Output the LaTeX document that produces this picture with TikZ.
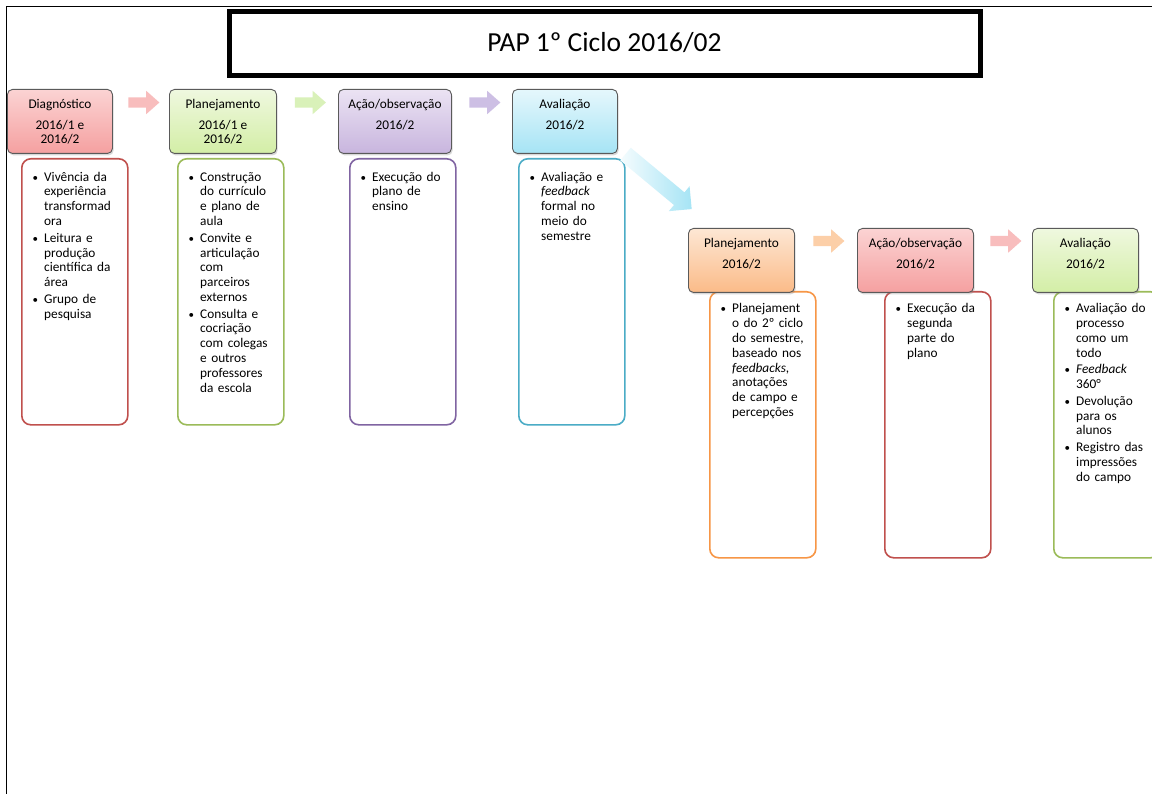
\documentclass[tikz,border=0pt]{standalone}
\usepackage{fontspec}
\setmainfont{Carlito}
\usetikzlibrary{shapes.arrows,shadows,calc}

\definecolor{hdrline}{HTML}{5A5A5A}
\definecolor{redA}{HTML}{C0504D}
\definecolor{greenA}{HTML}{9BBB59}
\definecolor{purpleA}{HTML}{8064A2}
\definecolor{aquaA}{HTML}{4BACC6}
\definecolor{orangeA}{HTML}{F79646}
\definecolor{redT}{HTML}{FBD3D3}
\definecolor{redB}{HTML}{F5A0A0}
\definecolor{greenT}{HTML}{EFF8DF}
\definecolor{greenB}{HTML}{D3EEA6}
\definecolor{purpleT}{HTML}{EBE3F3}
\definecolor{purpleB}{HTML}{C8B5DE}
\definecolor{aquaT}{HTML}{E5F7FC}
\definecolor{aquaB}{HTML}{A6E4F5}
\definecolor{orangeT}{HTML}{FDE7D4}
\definecolor{orangeB}{HTML}{FBBB88}
\definecolor{arrRed}{HTML}{F8BDBD}
\definecolor{arrGreen}{HTML}{D9F1B9}
\definecolor{arrPurple}{HTML}{CDBFE4}
\definecolor{arrOrange}{HTML}{FCCFA8}

\newcommand\bodyfont{\fontsize{13.3pt}{14.8pt}\selectfont\lineskip=0pt\relax}
% one bullet item; lines of the item are separated with \\
\newcommand\bul[1]{\noindent\makebox[11.5pt][l]{\rule{0pt}{12pt}{\fontsize{11pt}{11pt}\selectfont\textbullet}}%
  \parbox[t]{88pt}{\raggedright #1\strut}\par\vskip0.2pt}

\tikzset{
  hdr/.style={draw=hdrline, line width=0.9pt, rounded corners=5pt, anchor=north west,
    inner sep=0pt, minimum height=64pt,
    drop shadow={shadow xshift=1.2pt, shadow yshift=-2pt, opacity=0.3}},
  hdrtext/.style={anchor=north, inner sep=0pt, align=center, font=\bodyfont},
  card/.style={draw, line width=1.6pt, rounded corners=9pt, fill=white, anchor=north west,
    inner sep=0pt, minimum width=106pt, minimum height=266pt},
  cardtext/.style={anchor=north west, inner sep=0pt, text width=100pt, font=\bodyfont},
  flow/.style={single arrow, draw=none, minimum height=31pt, minimum width=23pt,
    single arrow head extend=6.5pt, single arrow head indent=0pt, single arrow tip angle=83,
    inner xsep=0pt, inner ysep=5pt, text height=0pt, text depth=0pt, sloped},
}

\begin{document}
\begin{tikzpicture}[x=1pt,y=-1pt]
\useasboundingbox (0,0) rectangle (1152,794);
\fill[white] (0,0) rectangle (1152,794);

% page frame and title
\draw[line width=1.8pt] (6.5,810) -- (6.5,6.5) -- (1170,6.5);
\node[draw, line width=5pt, fill=white, anchor=north west, minimum width=751pt, minimum height=64.5pt, inner sep=0pt]
  (title) at (226.5,9) {};
\node[font=\fontsize{27.5pt}{32pt}\selectfont, inner sep=0pt] (titletext) at ([yshift=1.5pt]title.center) {PAP 1º Ciclo 2016/02};

% content cards, first cycle
\node[card, draw=redA]    (c1) at (21,158)  {};
\node[card, draw=greenA]  (c2) at (177,158) {};
\node[card, draw=purpleA] (c3) at (349,158) {};
\node[card, draw=aquaA]   (c4) at (518,158) {};
% content cards, second cycle
\node[card, draw=orangeA] (c5) at (709,291)  {};
\node[card, draw=redA]    (c6) at (884,291)  {};
\node[card, draw=greenA]  (c7) at (1053,291) {};

% stage headers
\node[hdr, minimum width=105pt, top color=redT, bottom color=redB]       (h1) at (7,89) {};
\node[hdr, minimum width=107pt, top color=greenT, bottom color=greenB]   (h2) at (169,89) {};
\node[hdr, minimum width=113pt, top color=purpleT, bottom color=purpleB] (h3) at (338,89) {};
\node[hdr, minimum width=105pt, top color=aquaT, bottom color=aquaB]     (h4) at (512,89) {};
\node[hdr, minimum width=106pt, top color=orangeT, bottom color=orangeB] (h5) at (688,228) {};
\node[hdr, minimum width=116pt, top color=redT, bottom color=redB]       (h6) at (857,228) {};
\node[hdr, minimum width=106pt, top color=greenT, bottom color=greenB]   (h7) at (1032,228) {};

\node[hdrtext] (t1) at ([yshift=-8pt]h1.north) {\rule{0pt}{11pt}Diagnóstico\\[6.2pt]2016/1 e\\2016/2};
\node[hdrtext] (t2) at ([yshift=-8pt]h2.north) {\rule{0pt}{11pt}Planejamento\\[6.2pt]2016/1 e\\2016/2};
\node[hdrtext] (t3) at ([yshift=-8pt]h3.north) {\rule{0pt}{11pt}Ação/observação\\[6.2pt]2016/2};
\node[hdrtext] (t4) at ([yshift=-8pt]h4.north) {\rule{0pt}{11pt}Avaliação\\[6.2pt]2016/2};
\node[hdrtext] (t5) at ([yshift=-8pt]h5.north) {\rule{0pt}{11pt}Planejamento\\[6.2pt]2016/2};
\node[hdrtext] (t6) at ([yshift=-8pt]h6.north) {\rule{0pt}{11pt}Ação/observação\\[6.2pt]2016/2};
\node[hdrtext] (t7) at ([yshift=-8pt]h7.north) {\rule{0pt}{11pt}Avaliação\\[6.2pt]2016/2};

% block arrows between stages
\path ([yshift=-13.5pt]h1.north east) -- ([yshift=-13.5pt]h2.north west) node[flow, midway, fill=arrRed] (a1) {};
\path ([yshift=-13.5pt]h2.north east) -- ([yshift=-13.5pt]h3.north west) node[flow, midway, fill=arrGreen] (a2) {};
\path ([yshift=-13.5pt]h3.north east) -- ([yshift=-13.5pt]h4.north west) node[flow, midway, fill=arrPurple] (a3) {};
\path ([yshift=-13pt]h5.north east) -- ([yshift=-13pt]h6.north west) node[flow, midway, fill=arrOrange] (a5) {};
\path ([yshift=-13pt]h6.north east) -- ([yshift=-13pt]h7.north west) node[flow, midway, fill=arrRed] (a6) {};
\path ([xshift=5pt,yshift=2pt]h4.south east) -- ([xshift=0pt,yshift=22pt]h5.north west)
  node[flow, midway, minimum height=86pt, minimum width=32pt, inner ysep=8pt,
       single arrow head extend=8pt, single arrow tip angle=90,
       shading=axis, left color=aquaT!40!white, right color=aquaB] (a4) {};

% card texts
\node[cardtext] (l1) at ([xshift=11.5pt,yshift=-11pt]c1.north west)
  {\bul{Vivência da\\experiência\\transformad\\ora}\bul{Leitura e\\produção\\científica da\\área}\bul{Grupo de\\pesquisa}};
\node[cardtext] (l2) at ([xshift=11.5pt,yshift=-11pt]c2.north west)
  {\bul{Construção\\do currículo\\e plano de\\aula}\bul{Convite e\\articulação\\com\\parceiros\\externos}\bul{Consulta e\\cocriação\\com colegas\\e outros\\professores\\da escola}};
\node[cardtext] (l3) at ([xshift=11.5pt,yshift=-11pt]c3.north west)
  {\bul{Execução do\\plano de\\ensino}};
\node[cardtext] (l4) at ([xshift=11.5pt,yshift=-11pt]c4.north west)
  {\bul{Avaliação e\\\textit{feedback}\\formal no\\meio do\\semestre}};
\node[cardtext] (l5) at ([xshift=11.5pt,yshift=-9.7pt]c5.north west)
  {\bul{Planejament\\o do 2º ciclo\\do semestre,\\baseado nos\\\textit{feedbacks},\\anotações\\de campo e\\percepções}};
\node[cardtext] (l6) at ([xshift=11.5pt,yshift=-9.7pt]c6.north west)
  {\bul{Execução da\\segunda\\parte do\\plano}};
\node[cardtext] (l7) at ([xshift=11.5pt,yshift=-9.7pt]c7.north west)
  {\bul{Avaliação do\\processo\\como um\\todo}\bul{\textit{Feedback}\\360°}\bul{Devolução\\para os\\alunos}\bul{Registro das\\impressões\\do campo}};
\end{tikzpicture}
\end{document}
